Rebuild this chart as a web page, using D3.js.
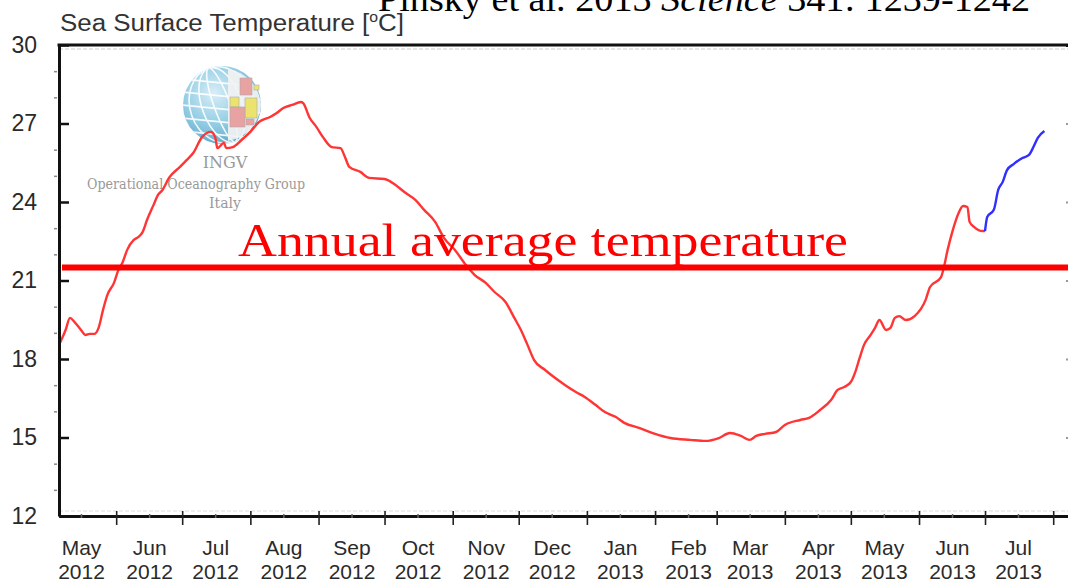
<!DOCTYPE html>
<html>
<head>
<meta charset="utf-8">
<script src="https://cdn.jsdelivr.net/npm/d3@7"></script>
<style>
  body { margin: 0; background: #fff; }
  svg { display: block; }
</style>
</head>
<body>
<div id="chart"></div>
<script>
// daily SST (red = archive, blue = recent)
const redDates = [
  "2012-05-06","2012-05-09","2012-05-11","2012-05-13","2012-05-16","2012-05-18","2012-05-20","2012-05-22",
  "2012-05-24","2012-05-26","2012-05-28","2012-05-31","2012-06-02","2012-06-04","2012-06-06","2012-06-09",
  "2012-06-11","2012-06-13","2012-06-15","2012-06-18","2012-06-20","2012-06-22","2012-06-25","2012-06-30",
  "2012-07-03","2012-07-06","2012-07-10","2012-07-14","2012-07-16","2012-07-17","2012-07-20","2012-07-21",
  "2012-07-24","2012-07-28","2012-08-01","2012-08-05","2012-08-10","2012-08-13","2012-08-16","2012-08-20",
  "2012-08-24","2012-08-25","2012-08-28","2012-08-31","2012-09-03","2012-09-07","2012-09-11","2012-09-13",
  "2012-09-15","2012-09-20","2012-09-24","2012-10-01","2012-10-06","2012-10-10","2012-10-15","2012-10-19",
  "2012-10-24","2012-10-28","2012-11-02","2012-11-07","2012-11-11","2012-11-16","2012-11-20","2012-11-25",
  "2012-11-29","2012-12-02","2012-12-05","2012-12-08","2012-12-13","2012-12-17","2012-12-22","2012-12-27",
  "2012-12-31","2013-01-05","2013-01-09","2013-01-14","2013-01-18","2013-01-25","2013-02-01","2013-02-08",
  "2013-02-17","2013-02-24","2013-03-02","2013-03-07","2013-03-12","2013-03-16","2013-03-19","2013-03-23",
  "2013-03-28","2013-04-01","2013-04-08","2013-04-12","2013-04-17","2013-04-22","2013-04-25","2013-04-28",
  "2013-05-01","2013-05-03","2013-05-05","2013-05-07","2013-05-10","2013-05-12","2013-05-14","2013-05-17",
  "2013-05-19","2013-05-21","2013-05-23","2013-05-26","2013-05-30","2013-06-04","2013-06-06","2013-06-11",
  "2013-06-12","2013-06-14","2013-06-16","2013-06-19","2013-06-21","2013-06-23","2013-06-24","2013-06-26",
  "2013-06-30","2013-07-01"
];
const redTemps = [
  18.54, 19.11, 19.57, 19.42, 19.11, 18.92, 18.96, 18.96,
  19.19, 19.87, 20.45, 20.91, 21.40, 21.71, 22.17, 22.55,
  22.66, 22.85, 23.31, 23.89, 24.27, 24.45, 24.92, 25.34,
  25.60, 25.87, 26.48, 26.68, 26.48, 26.06, 26.26, 26.06,
  26.10, 26.37, 26.68, 27.06, 27.25, 27.40, 27.59, 27.71,
  27.82, 27.78, 27.21, 26.87, 26.48, 26.10, 26.06, 25.72,
  25.34, 25.15, 24.92, 24.88, 24.65, 24.38, 24.08, 23.70,
  23.24, 22.63, 22.17, 21.59, 21.21, 20.91, 20.56, 20.18,
  19.57, 19.11, 18.54, 17.96, 17.58, 17.31, 17.01, 16.74,
  16.55, 16.24, 15.98, 15.79, 15.56, 15.36, 15.14, 14.98,
  14.91, 14.87, 14.98, 15.17, 15.06, 14.91, 15.06, 15.14,
  15.21, 15.48, 15.67, 15.75, 16.05, 16.43, 16.82, 16.93,
  17.12, 17.50, 18.04, 18.54, 18.92, 19.19, 19.49, 19.11,
  19.19, 19.57, 19.64, 19.49, 19.64, 20.26, 20.75, 21.13,
  21.40, 22.17, 22.82, 23.58, 23.85, 23.81, 23.24, 23.05,
  22.89, 22.89
];
const blueDates = [
  "2013-07-01","2013-07-02","2013-07-05","2013-07-07","2013-07-09","2013-07-11","2013-07-14","2013-07-18",
  "2013-07-21","2013-07-23","2013-07-25","2013-07-28"
];
const blueTemps = [22.89, 23.43, 23.70, 24.46, 24.76, 25.22, 25.45, 25.68, 25.80, 26.10, 26.45, 26.71];

const avgTemp = 21.5;
const yMajor = [12, 15, 18, 21, 24, 27, 30];
const yMinor = d3.range(12, 31).filter(v => v % 3 !== 0);
const dateStart = "2012-05-06", dateEnd = "2013-08-10";

const W = 1068, H = 583;
const MARGIN = { LEFT: 59, TOP: 45, RIGHT: -5, BOTTOM: 67 };
const parse = d3.timeParse("%Y-%m-%d");
const SANS = "'Liberation Sans', Arial, sans-serif";

const svg = d3.select("#chart").append("svg")
  .attr("width", W).attr("height", H)
  .style("font-family", SANS);

const defs = svg.append("defs");
const shadow = defs.append("filter").attr("id", "shadow")
  .attr("x", "-5%").attr("y", "-200%").attr("width", "110%").attr("height", "500%");
shadow.append("feGaussianBlur").attr("stdDeviation", 2);

const x = d3.scaleTime()
  .domain([parse(dateStart), parse(dateEnd)])
  .range([MARGIN.LEFT, W - MARGIN.RIGHT]);
const y = d3.scaleLinear().domain([12, 30]).range([H - MARGIN.BOTTOM, MARGIN.TOP]);

// citation, cut off at the top like in the slide
const cite = svg.append("text")
  .attr("x", 378).attr("y", 11)
  .attr("font-family", "'Liberation Serif', 'DejaVu Serif', serif")
  .attr("font-size", 36)
  .attr("textLength", 652).attr("lengthAdjust", "spacingAndGlyphs")
  .attr("fill", "#000");
cite.append("tspan").text("Pinsky et al. 2013 ");
cite.append("tspan").attr("font-style", "italic").text("Science");
cite.append("tspan").text(" 341: 1239-1242");

// title
const title = svg.append("text")
  .attr("x", 60).attr("y", 31)
  .attr("font-size", 23).attr("fill", "#333")
  .attr("textLength", 344).attr("lengthAdjust", "spacingAndGlyphs");
title.append("tspan").text("Sea Surface Temperature [");
title.append("tspan").attr("font-size", 14).attr("dy", -9).text("o");
title.append("tspan").attr("dy", 9).text("C]");

// faint shadow lines inside the frame
svg.append("line")
  .attr("x1", MARGIN.LEFT).attr("x2", W).attr("y1", y(30) + 4).attr("y2", y(30) + 4)
  .attr("stroke", "#ccc").attr("stroke-width", 1).attr("stroke-dasharray", "4,2");
svg.append("line")
  .attr("x1", MARGIN.LEFT).attr("x2", W).attr("y1", y(12) - 5).attr("y2", y(12) - 5)
  .attr("stroke", "#ddd").attr("stroke-width", 1).attr("stroke-dasharray", "4,2");

// ---- INGV logo ----
const logo = svg.append("g").attr("transform", "translate(222,105)");
const grad = defs.append("radialGradient").attr("id", "globe").attr("cx", "40%").attr("cy", "35%").attr("r", "70%");
grad.append("stop").attr("offset", "0%").attr("stop-color", "#d8eef7");
grad.append("stop").attr("offset", "60%").attr("stop-color", "#8fcbe2");
grad.append("stop").attr("offset", "100%").attr("stop-color", "#5aa7c7");
defs.append("clipPath").attr("id", "globeClip").append("circle").attr("r", 39);
logo.append("circle").attr("r", 39).attr("fill", "url(#globe)");
const grid = logo.append("g").attr("clip-path", "url(#globeClip)")
  .attr("stroke", "#fff").attr("stroke-width", 1.6).attr("fill", "none").attr("opacity", 0.9);
[8, 20, 32].forEach(rx => grid.append("ellipse").attr("rx", rx).attr("ry", 39).attr("transform", "rotate(-20)"));
[-26, -13, 0, 13, 26].forEach(v => grid.append("line").attr("x1", -40).attr("x2", 40).attr("y1", v).attr("y2", v + 8));
logo.append("path").attr("d", "M6,-36 A39,39 0 0 1 39,0 A39,39 0 0 1 6,36 Z")
  .attr("fill", "#f2f2f2").attr("opacity", 0.92);
[
  [18, -27, 12, 17, "#e9a2a2"], [8, -8, 9, 10, "#ece36f"], [23, -7, 12, 20, "#ece36f"],
  [8, 2, 15, 20, "#e9a2a2"], [32, -20, 5, 5, "#ece36f"], [24, 14, 8, 6, "#e9a2a2"]
].forEach(r => logo.append("rect").attr("x", r[0]).attr("y", r[1]).attr("width", r[2]).attr("height", r[3])
  .attr("fill", r[4]).attr("stroke", "#aaa").attr("stroke-width", 0.6));
const logoText = svg.append("g").attr("fill", "#999").attr("text-anchor", "middle")
  .attr("font-family", "'DejaVu Serif', serif");
logoText.append("text").attr("x", 225).attr("y", 168).attr("font-size", 16).text("INGV");
logoText.append("text").attr("x", 196).attr("y", 189).attr("font-size", 14)
  .attr("textLength", 218).attr("lengthAdjust", "spacingAndGlyphs").text("Operational Oceanography Group");
logoText.append("text").attr("x", 225).attr("y", 208).attr("font-size", 14).text("Italy");

// ---- data lines ----
const line = d3.line().x(d => x(d[0])).y(d => y(d[1])).curve(d3.curveMonotoneX);
const redData = redDates.map((d, i) => [parse(d), redTemps[i]]);
const blueData = blueDates.map((d, i) => [parse(d), blueTemps[i]]);
svg.append("path").datum(redData).attr("d", line)
  .attr("fill", "none").attr("stroke", "#ff3535").attr("stroke-width", 2.4);
svg.append("path").datum(blueData).attr("d", line)
  .attr("fill", "none").attr("stroke", "#2f2fff").attr("stroke-width", 2.4);

// ---- axes ----
const yAxis = svg.append("g").attr("transform", `translate(${MARGIN.LEFT},0)`)
  .call(d3.axisLeft(y).tickValues(yMajor).tickSize(-10).tickSizeOuter(0).tickPadding(22).tickFormat(d3.format("d")));
yAxis.select(".domain").attr("stroke", "#111").attr("stroke-width", 3);
yAxis.selectAll(".tick line").attr("stroke", "#111").attr("stroke-width", 2.5);
yAxis.selectAll("text").attr("font-size", 23).attr("fill", "#2a2a2a").attr("font-family", SANS);

const yMinorAxis = svg.append("g").attr("transform", `translate(${MARGIN.LEFT - 2},0)`)
  .call(d3.axisLeft(y).tickValues(yMinor).tickSize(3).tickFormat(""));
yMinorAxis.select(".domain").remove();
yMinorAxis.selectAll(".tick line").attr("stroke", "#888").attr("stroke-width", 1.5);

// right frame (mostly off the page) with inward ticks
const yRight = svg.append("g").attr("transform", `translate(${W + 5},0)`)
  .call(d3.axisRight(y).tickValues(yMajor.slice(1, -1)).tickSize(-7).tickFormat(""));
yRight.select(".domain").attr("stroke", "#111").attr("stroke-width", 3);
yRight.selectAll(".tick line").attr("stroke", "#999").attr("stroke-width", 2);

// top frame
svg.append("line")
  .attr("x1", MARGIN.LEFT - 1.5).attr("x2", W).attr("y1", y(30)).attr("y2", y(30))
  .attr("stroke", "#111").attr("stroke-width", 3);

// bottom axis: month boundaries as ticks, mid-month labels
const monthStarts = d3.timeMonth.range(parse("2012-06-01"), parse("2013-08-02"));
const xAxis = svg.append("g").attr("transform", `translate(0,${y(12)})`)
  .call(d3.axisBottom(x).tickValues(monthStarts).tickSize(9).tickSizeOuter(0).tickFormat(""));
xAxis.select(".domain").attr("stroke", "#111").attr("stroke-width", 3);
xAxis.selectAll(".tick line").attr("y1", -5).attr("stroke", "#222").attr("stroke-width", 1.6);

const midMonths = d3.timeMonth.range(parse("2012-05-01"), parse("2013-08-01")).map(d => d3.timeDay.offset(d, 15));
const xLabels = svg.append("g").attr("transform", `translate(0,${y(12)})`)
  .call(d3.axisBottom(x).tickValues(midMonths).tickSize(2).tickFormat(""));
xLabels.select(".domain").remove();
xLabels.selectAll(".tick line").attr("stroke", "#666").attr("stroke-width", 1.5).attr("y1", -2);
const fmtMonth = d3.timeFormat("%b"), fmtYear = d3.timeFormat("%Y");
xLabels.selectAll(".tick").append("text")
  .attr("fill", "#2a2a2a").attr("font-size", 21).attr("text-anchor", "middle")
  .attr("font-family", SANS)
  .each(function (d) {
    const t = d3.select(this);
    t.append("tspan").attr("x", 0).attr("y", 38.5).text(fmtMonth(d));
    t.append("tspan").attr("x", 0).attr("y", 62.5).text(fmtYear(d));
  });

// ---- annual average annotation ----
svg.append("line")
  .attr("x1", 62).attr("x2", W).attr("y1", y(avgTemp) + 5).attr("y2", y(avgTemp) + 5)
  .attr("stroke", "#777").attr("stroke-width", 5).attr("opacity", 0.55).attr("filter", "url(#shadow)");
svg.append("line")
  .attr("x1", 62).attr("x2", W).attr("y1", y(avgTemp)).attr("y2", y(avgTemp))
  .attr("stroke", "#ff0000").attr("stroke-width", 6);
svg.append("text")
  .attr("x", 238).attr("y", 256)
  .attr("font-family", "'Liberation Serif', 'DejaVu Serif', serif")
  .attr("font-size", 46).attr("fill", "#ff0000")
  .attr("textLength", 610).attr("lengthAdjust", "spacingAndGlyphs")
  .text("Annual average temperature");
</script>
</body>
</html>
